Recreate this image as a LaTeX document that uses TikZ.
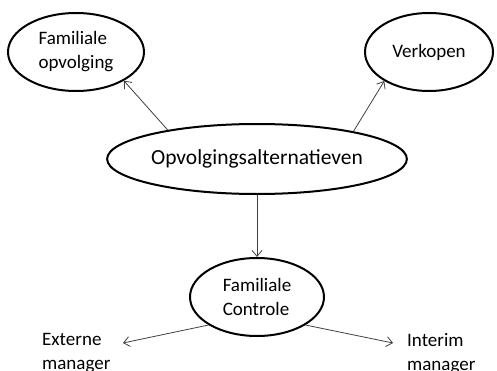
\documentclass[tikz,border=0pt]{standalone}
\usepackage{fontspec}
\setmainfont{Carlito}
\usetikzlibrary{arrows.meta,shapes.geometric}

\begin{document}
\begin{tikzpicture}[x=1pt,y=1pt,
  keuze/.style={draw, ellipse, line width=2pt, inner sep=0pt, align=left,
    font=\fontsize{19}{24}\selectfont},
  pijl/.style={draw=black!75, line width=0.8pt, -{Straight Barb[length=6pt,width=10pt]}},
  tekst/.style={inner sep=0pt, align=left, anchor=north west,
    font=\fontsize{19}{24}\selectfont}]
  \useasboundingbox (0,0) rectangle (497,370);

  \node[keuze, minimum width=274pt, minimum height=70pt,
    font=\fontsize{21.5}{26}\selectfont] (alt) at (257,211) {Opvolgingsalternatieven};
  \node[keuze, minimum width=136pt, minimum height=78pt] (fam) at (76,318) {Familiale\\opvolging};
  \node[keuze, minimum width=128pt, minimum height=78pt] (verk) at (429,318) {Verkopen};
  \node[keuze, minimum width=134pt, minimum height=78pt] (ctrl) at (257,73) {Familiale\\Controle};

  \node[tekst] (ext) at (42,37) {Externe\\manager};
  \node[tekst] (int) at (407,37) {Interim\\manager};
  \coordinate (extpunt) at (123,27);
  \coordinate (intpunt) at (393,27);

  \draw[pijl] (alt.162) -- (fam.329);
  \draw[pijl] (alt.16.5) -- (verk.213);
  \draw[pijl] (alt.south) -- (ctrl.north);
  \draw[pijl] (ctrl.210) -- (extpunt);
  \draw[pijl] (ctrl.330) -- (intpunt);
\end{tikzpicture}
\end{document}
